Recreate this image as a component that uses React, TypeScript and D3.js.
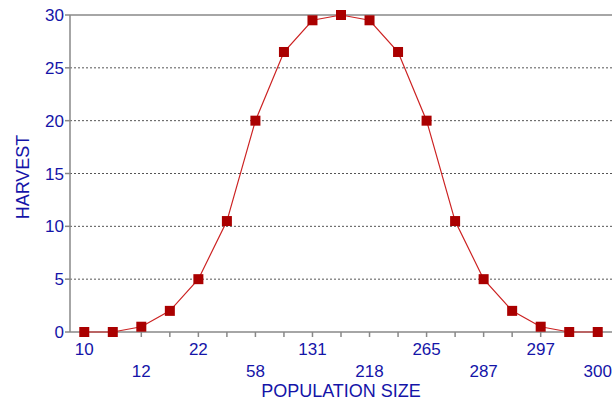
import React from "react";
import * as d3 from "d3";

const tickLabels = ["10", "", "12", "", "22", "", "58", "", "131", "", "218", "", "265", "", "287", "", "297", "", "300"];
const harvest = [0, 0, 0.5, 2, 5, 10.5, 20, 26.5, 29.5, 30, 29.5, 26.5, 20, 10.5, 5, 2, 0.5, 0, 0];
const yTicks = [0, 5, 10, 15, 20, 25, 30];

const W = 614, H = 402;
const M = { left: 70, right: 2, top: 15, bottom: 70 };
const TEXT = "#1414a8";

export default function App() {
  const idx = harvest.map((_, i) => i);
  const x = d3.scalePoint<number>().domain(idx).range([M.left, W - M.right]).padding(0.5);
  const y = d3.scaleLinear().domain([0, 30]).range([H - M.bottom, M.top]);
  const line = d3.line<number>().x((_, i) => x(i)!).y((d) => y(d));
  const font = "Liberation Sans, Arial, sans-serif";
  return (
    <svg width={W} height={H} style={{ position: "absolute", left: 0, top: 0 }} fontFamily={font}>
      <rect width={W} height={H} fill="#fff" />
      {yTicks.filter((t) => t > 0 && t < 30).map((t) => (
        <line key={"g" + t} x1={M.left} x2={W - M.right} y1={y(t)} y2={y(t)} stroke="#555" strokeDasharray="2,2" strokeWidth={1} />
      ))}
      <line x1={M.left} x2={W - M.right} y1={y(30)} y2={y(30)} stroke="#888" strokeWidth={1.5} />
      <line x1={M.left} x2={M.left} y1={y(30)} y2={y(0)} stroke="#888" strokeWidth={1.5} />
      <line x1={M.left} x2={W - M.right} y1={y(0)} y2={y(0)} stroke="#888" strokeWidth={1.5} />
      {yTicks.map((t) => (
        <g key={"y" + t}>
          <line x1={M.left - 5} x2={M.left} y1={y(t)} y2={y(t)} stroke="#888" strokeWidth={1.5} />
          <text x={M.left - 6} y={y(t)} dy="0.36em" textAnchor="end" fontSize={17} fill={TEXT}>{t}</text>
        </g>
      ))}
      {idx.map((i) => (
        <g key={"x" + i}>
          <line x1={x(i)} x2={x(i)} y1={y(0)} y2={y(0) + 5} stroke="#888" strokeWidth={1.5} />
          {tickLabels[i] && (
            <text x={x(i)} y={(i / 2) % 2 === 0 ? 355 : 377} textAnchor="middle" fontSize={17} fill={TEXT}>{tickLabels[i]}</text>
          )}
        </g>
      ))}
      <path d={line(harvest) || ""} fill="none" stroke="#cc2222" strokeWidth={1.2} />
      {harvest.map((d, i) => (
        <rect key={"p" + i} x={x(i)! - 5} y={y(d) - 5} width={10} height={10} fill="#aa0000" />
      ))}
      <text x={341} y={397} textAnchor="middle" fontSize={18} fill={TEXT}>POPULATION SIZE</text>
      <text transform={`translate(29,${177}) rotate(-90)`} textAnchor="middle" fontSize={18} fill={TEXT}>HARVEST</text>
    </svg>
  );
}
